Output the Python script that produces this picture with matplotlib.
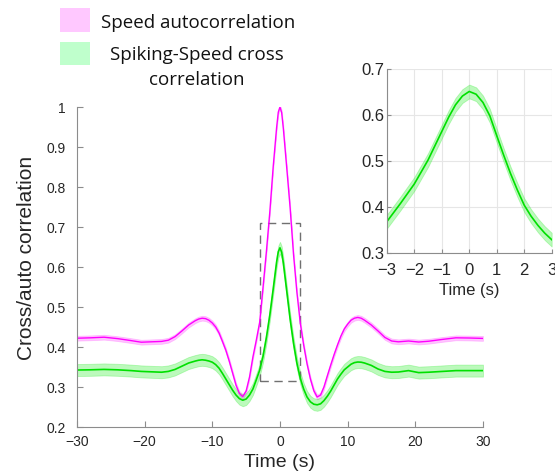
import numpy as np
import matplotlib
matplotlib.use("Agg")
import matplotlib.pyplot as plt
from matplotlib.patches import Rectangle

plt.rcParams['font.family'] = ['Liberation Sans', 'DejaVu Sans']

# --- main panel data ---
t_main = [-30, -28, -26, -24, -22, -20.5, -19, -17.5, -16.5, -15.5, -14.5, -13.5,
          -12.5, -12, -11.5, -11, -10.5, -10, -9.5, -9, -8.5, -8, -7.5, -7, -6.5,
          -6, -5.5, -5, -4.5, -4, -3.5, -3, -2.5, -2, -1.5, -1, -0.5, -0.25, 0,
          0.25, 0.5, 1, 1.5, 2, 2.5, 3, 3.5, 4, 4.5, 5, 5.5, 6, 6.5, 7, 7.5, 8, 8.5,
          9, 9.5, 10, 10.5, 11, 11.5, 12, 12.5, 13.5, 14.5, 15.5, 16.5, 17.5, 19,
          20.5, 22, 24, 26, 28, 30]

speed_auto = [0.422, 0.423, 0.4245, 0.421, 0.416, 0.412, 0.413, 0.414, 0.417, 0.426,
              0.440, 0.455, 0.466, 0.470, 0.472, 0.471, 0.467, 0.460, 0.450, 0.435,
              0.414, 0.392, 0.365, 0.335, 0.305, 0.284, 0.276, 0.290, 0.325, 0.375,
              0.417, 0.462, 0.550, 0.640, 0.738, 0.851, 0.948, 0.987, 1.000,
              0.986, 0.946, 0.848, 0.748, 0.632, 0.537, 0.460, 0.405, 0.358, 0.320,
              0.291, 0.275, 0.280, 0.300, 0.328, 0.355, 0.381, 0.405, 0.427, 0.445,
              0.457, 0.467, 0.472, 0.474, 0.472, 0.467, 0.455, 0.440, 0.424, 0.415,
              0.413, 0.415, 0.4125, 0.4145, 0.419, 0.423, 0.4225, 0.4215]

speed_auto_sem = 0.006

spike_cross = [0.3425, 0.343, 0.344, 0.343, 0.341, 0.339, 0.338, 0.337, 0.339, 0.344,
               0.352, 0.360, 0.365, 0.367, 0.368, 0.367, 0.365, 0.362, 0.356, 0.347,
               0.334, 0.320, 0.306, 0.292, 0.280, 0.271, 0.267, 0.270, 0.280, 0.295,
               0.318, 0.342, 0.377, 0.424, 0.480, 0.545, 0.612, 0.638, 0.648,
               0.637, 0.610, 0.540, 0.470, 0.410, 0.360, 0.322, 0.295, 0.275, 0.263,
               0.257, 0.2555, 0.258, 0.266, 0.277, 0.290, 0.305, 0.320, 0.332, 0.343,
               0.350, 0.357, 0.361, 0.3625, 0.362, 0.360, 0.354, 0.345, 0.339, 0.337,
               0.3375, 0.341, 0.336, 0.337, 0.339, 0.341, 0.341, 0.341]

spike_cross_sem = 0.015

# --- inset data (zoom of the cross correlation around zero lag) ---
t_inset = [-3, -2.75, -2.5, -2.25, -2, -1.75, -1.5, -1.25, -1, -0.75, -0.5, -0.25, 0,
           0.25, 0.5, 0.75, 1, 1.25, 1.5, 1.75, 2, 2.25, 2.5, 2.75, 3]
spike_cross_inset = [0.368, 0.388, 0.408, 0.429, 0.450, 0.476, 0.502, 0.533, 0.564,
                     0.595, 0.622, 0.641, 0.651, 0.645, 0.627, 0.598, 0.555, 0.513,
                     0.473, 0.437, 0.404, 0.380, 0.360, 0.343, 0.329]
inset_sem = 0.015

zoom_t = (-3, 3)
zoom_y = (0.315, 0.71)

legend_labels = ['Speed autocorrelation', 'Spiking-Speed cross', 'correlation']

MAG = '#ff00ff'
MAG_BAND = '#ff80ff'
GRN = '#00e000'
GRN_BAND = '#40f040'
AX_COL = '#8c8c8c'
TXT_COL = '#262626'

W, H = 555, 472
fig = plt.figure(figsize=(W / 100, H / 100), dpi=100)

# main axes
ax = fig.add_axes([0.1387, 0.0953, 0.7315, 0.678])
t = np.array(t_main)
sa = np.array(speed_auto)
sc = np.array(spike_cross)

ax.fill_between(t, sa - speed_auto_sem, sa + speed_auto_sem, color=MAG_BAND,
                alpha=0.45, lw=0.6, edgecolor=MAG_BAND)
ax.plot(t, sa, color=MAG, lw=1.0)
ax.fill_between(t, sc - spike_cross_sem, sc + spike_cross_sem, color=GRN_BAND,
                alpha=0.35, lw=0.6, edgecolor=GRN_BAND)
ax.plot(t, sc, color=GRN, lw=1.2)

ax.add_patch(Rectangle((zoom_t[0], zoom_y[0]), zoom_t[1] - zoom_t[0],
                       zoom_y[1] - zoom_y[0], fill=False, ls=(0, (6, 4)),
                       lw=1.0, edgecolor='#707070'))

ax.set_xlim(-30, 30)
ax.set_ylim(0.2, 1.0)
ax.set_xticks(np.arange(-30, 31, 10))
ax.set_yticks(np.round(np.arange(0.2, 1.01, 0.1), 1))
ax.set_yticklabels(['0.2', '0.3', '0.4', '0.5', '0.6', '0.7', '0.8', '0.9', '1'])
for s in ['top', 'right']:
    ax.spines[s].set_visible(False)
for s in ['left', 'bottom']:
    ax.spines[s].set_color(AX_COL)
ax.tick_params(direction='in', length=4, color=AX_COL, labelsize=10,
               labelcolor=TXT_COL)
ax.tick_params(axis='x', pad=6)
ax.tick_params(axis='y', pad=8)
ax.set_xlabel('Time (s)', fontsize=14, color=TXT_COL, labelpad=3)
ax.set_ylabel('Cross/auto correlation', fontsize=15, color=TXT_COL)
ax.yaxis.set_label_coords(-0.101, 0.528)

# inset
axi = fig.add_axes([0.697, 0.464, 0.297, 0.390])
ti = np.array(t_inset)
ci = np.array(spike_cross_inset)
axi.fill_between(ti, ci - inset_sem, ci + inset_sem, color=GRN_BAND, alpha=0.35,
                 lw=0.6, edgecolor=GRN_BAND)
axi.plot(ti, ci, color=GRN, lw=1.2)
axi.set_xlim(-3, 3)
axi.set_ylim(0.3, 0.7)
axi.set_xticks(np.arange(-3, 4, 1))
axi.set_yticks([0.3, 0.4, 0.5, 0.6, 0.7])
axi.grid(True, color='#e6e6e6', lw=0.8)
axi.set_axisbelow(True)
for s in ['top', 'right']:
    axi.spines[s].set_visible(False)
for s in ['left', 'bottom']:
    axi.spines[s].set_color(AX_COL)
axi.tick_params(direction='in', length=3, color=AX_COL, labelsize=12,
                labelcolor=TXT_COL)
axi.tick_params(axis='x', pad=7)
axi.tick_params(axis='y', pad=1.5)
axi.set_xlabel('Time (s)', fontsize=12, color=TXT_COL, labelpad=4)

# legend (drawn by hand so the two-line label stays centred like the original)
leg_font = {'family': 'Open Sans', 'size': 13.5, 'color': '#111111'}
fig.add_artist(Rectangle((60 / W, 1 - 32 / H), 30 / W, 24 / H,
                         transform=fig.transFigure, facecolor='#ffc8ff',
                         edgecolor='none'))
fig.add_artist(Rectangle((60 / W, 1 - 65 / H), 30 / W, 23 / H,
                         transform=fig.transFigure, facecolor='#bfffcc',
                         edgecolor='none'))
fig.text(101 / W, 1 - 28 / H, legend_labels[0], ha='left', va='baseline', **leg_font)
fig.text(197 / W, 1 - 60 / H, legend_labels[1], ha='center', va='baseline', **leg_font)
fig.text(197 / W, 1 - 85 / H, legend_labels[2], ha='center', va='baseline', **leg_font)

fig.savefig('out.png', dpi=100)
